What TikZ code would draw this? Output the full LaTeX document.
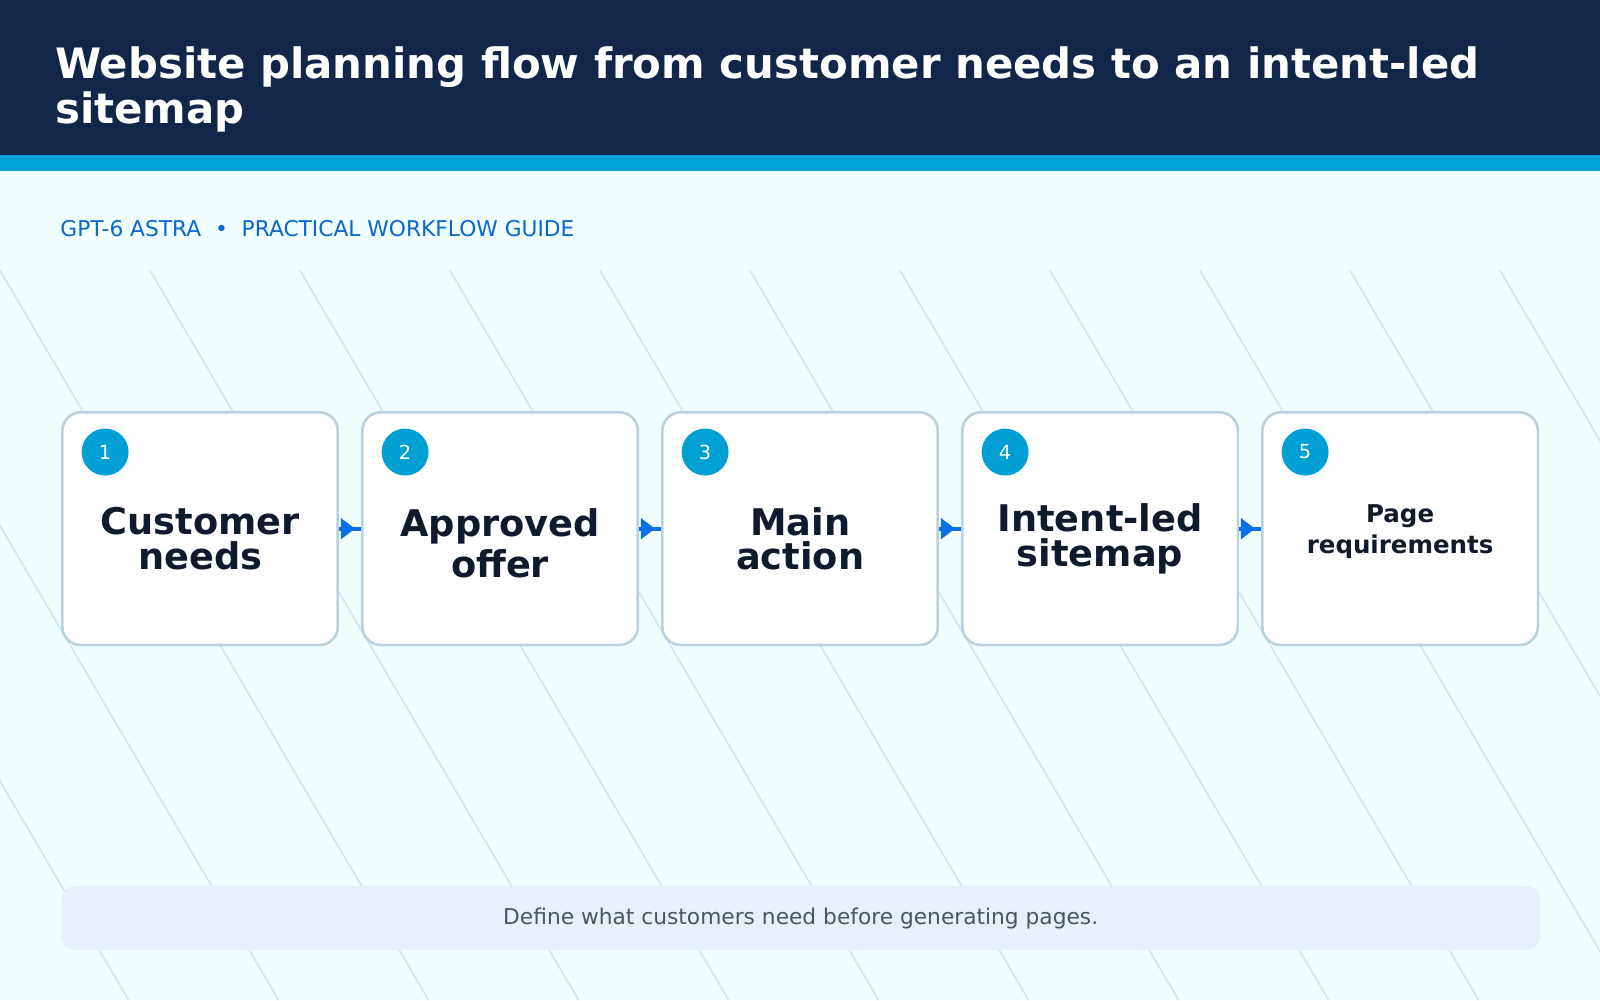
\documentclass[tikz,border=0pt]{standalone}
\usepackage{fontspec}
\setmainfont{DejaVu Sans}
\begin{document}
\begin{tikzpicture}[x=1pt,y=-1pt,
  box/.style={draw=boxline,line width=2.2pt,fill=white,rounded corners=18pt,minimum width=270pt,minimum height=228pt,anchor=north west},
  badge/.style={circle,fill=badge,minimum size=46pt,inner sep=0pt,text=white,font=\fontsize{19}{19}\selectfont},
  lab/.style={font=\bfseries\fontsize{36}{36}\selectfont,text=ink,align=center},
  conn/.style={draw=arrowc,line width=4pt,-{Triangle[length=14pt,width=20pt]},shorten >=6pt}]
\usetikzlibrary{arrows.meta}
\definecolor{navy}{HTML}{12264A}
\definecolor{stripe}{HTML}{00A0D8}
\definecolor{bg}{HTML}{F0FEFF}
\definecolor{diag}{HTML}{D0E6EA}
\definecolor{boxline}{HTML}{BCD1DF}
\definecolor{badge}{HTML}{00A0D4}
\definecolor{ink}{HTML}{0F1B2D}
\definecolor{arrowc}{HTML}{0A6FE6}
\definecolor{sub}{HTML}{0A66D0}
\definecolor{foot}{HTML}{E8F0FC}
\definecolor{foottext}{HTML}{4A5565}
\useasboundingbox (0,0) rectangle (1568,980);
\fill[bg] (0,0) rectangle (1568,980);
\begin{scope}
\clip (0,265) rectangle (1568,980);
\foreach \i in {-5,...,11} \draw[diag,line width=1.5pt] ({\i*147},265) -- ({\i*147+420},980);
\end{scope}
\fill[navy] (0,0) rectangle (1568,152);
\fill[stripe] (0,152) rectangle (1568,168);
\node[anchor=north west,text=white,font=\bfseries\fontsize{41}{44}\selectfont,align=left,inner sep=0pt] (title) at (54,46) {Website planning flow from customer needs to an intent-led\\sitemap};
\node[anchor=west,text=sub,font=\fontsize{21.3}{21}\selectfont,inner sep=0pt] (subt) at (59,224) {GPT-6 ASTRA\ \ •\ \ PRACTICAL WORKFLOW GUIDE};
\foreach \n/\x in {1/60,2/354,3/648,4/942,5/1236}{
  \node[box] (b\n) at (\x,403) {};
  \node[badge] (c\n) at (\x+43,443) {\n};
}
\foreach \a/\b in {1/2,2/3,3/4,4/5}{
  \draw[arrowc,line width=4pt] (b\a.east) -- (b\b.west);
  \draw[conn] (b\a.east) -- (b\b.west);
}
\foreach \n in {1,...,5} \node[box,fill=none] at (b\n.north west) {};
\node[lab] at ([yshift=-10pt]b1.center) {Customer\\[-2pt]needs};
\node[lab] at ([yshift=-14pt]b2.center) {Approved\\[4pt]offer};
\node[lab] at ([yshift=-10pt]b3.center) {Main\\[-2pt]action};
\node[lab] at ([yshift=-10pt]b4.center) {Intent-led\\[-2pt]sitemap};
\node[lab,font=\bfseries\fontsize{24}{30}\selectfont] at ([yshift=-3pt]b5.center) {Page\\requirements};
\node[fill=foot,rounded corners=14pt,minimum width=1449pt,minimum height=63pt,anchor=north west,inner sep=0pt] (footer) at (60,868) {};
\node[text=foottext,font=\fontsize{21.3}{21}\selectfont] at (footer.center) {Define what customers need before generating pages.};
\end{tikzpicture}
\end{document}
